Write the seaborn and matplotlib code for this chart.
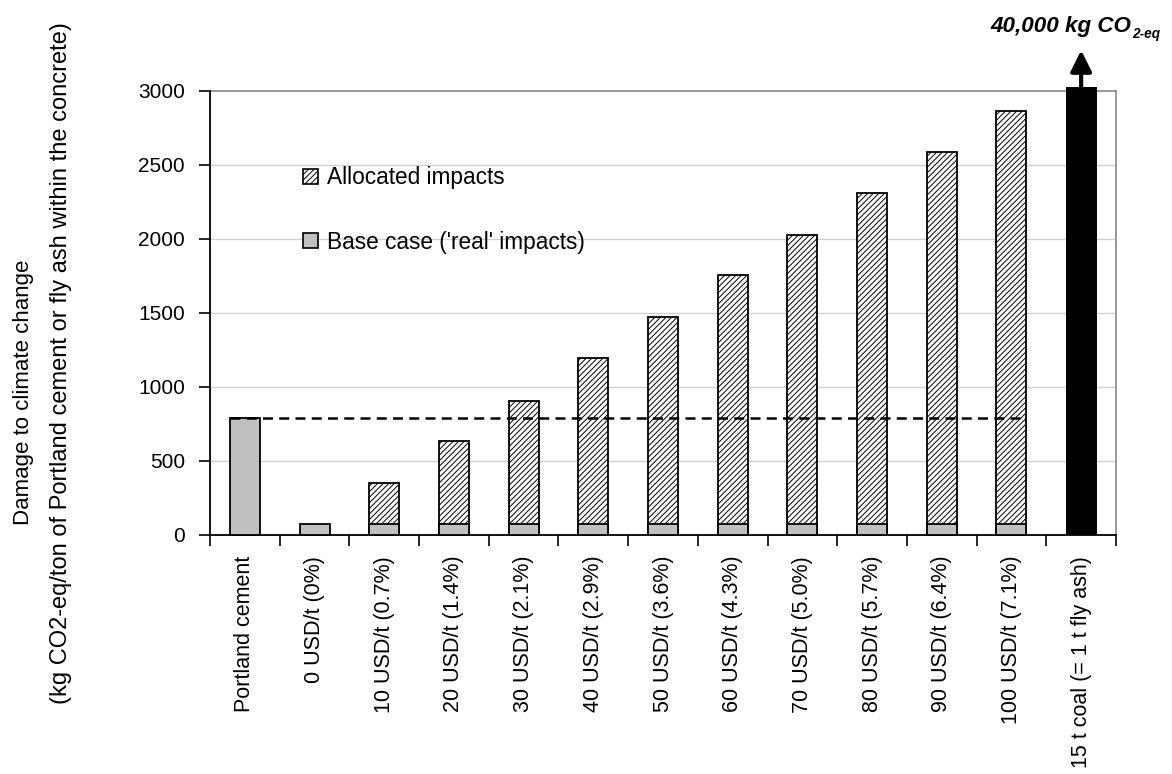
import matplotlib

matplotlib.use('Agg')
import matplotlib.pyplot as plt
from matplotlib import font_manager
from matplotlib.patches import Patch
from matplotlib.ticker import FixedLocator
import seaborn as sns
import pandas as pd

# Данные
labels = ['Portland cement', '0 USD/t (0%)', '10 USD/t (0.7%)', '20 USD/t (1.4%)',
          '30 USD/t (2.1%)', '40 USD/t (2.9%)', '50 USD/t (3.6%)', '60 USD/t (4.3%)',
          '70 USD/t (5.0%)', '80 USD/t (5.7%)', '90 USD/t (6.4%)', '100 USD/t (7.1%)',
          '15 t coal (= 1 t fly ash)']
base_case = [790, 75, 75, 75, 75, 75, 75, 75, 75, 75, 75, 75, 0]
allocated_total = [0, 0, 349, 633, 907, 1194, 1471, 1754, 2029, 2313, 2590, 2863, 0]
coal_shown = [0, 0, 0, 0, 0, 0, 0, 0, 0, 0, 0, 0, 3025]  # real value 40,000 -> off scale
portland_level = 790
y_ticks = [0, 500, 1000, 1500, 2000, 2500, 3000]

sns.set_theme(style="white")
names = {f.name for f in font_manager.fontManager.ttflist}
narrow = 'Liberation Sans Narrow' if 'Liberation Sans Narrow' in names else 'Liberation Sans'
scale = 1.0 if narrow == 'Liberation Sans Narrow' else 0.85
plt.rcParams['font.family'] = ['Liberation Sans', 'DejaVu Sans']
plt.rcParams['hatch.linewidth'] = 0.7
for k in ['text.color', 'axes.labelcolor', 'xtick.color', 'ytick.color']:
    plt.rcParams[k] = 'black'

df = pd.DataFrame({'label': labels, 'base': base_case,
                   'total': allocated_total, 'coal': coal_shown})

fig = plt.figure(figsize=(11.72, 7.74), dpi=100)
ax = fig.add_axes([210 / 1172, 1 - 535 / 774, 906 / 1172, 444 / 774])
W = 0.43

# Гриды
for y in y_ticks[1:-1]:
    ax.axhline(y, color='#d0d0d0', lw=1.0, zorder=0)

# Распределённые воздействия (штриховка)
sns.barplot(ax=ax, data=df[df['total'] > 0], x='label', y='total', order=labels,
            color='white', saturation=1, width=W, edgecolor='black', linewidth=1.3,
            hatch='//////', zorder=2)
# Базовый случай
sns.barplot(ax=ax, data=df[df['base'] > 0], x='label', y='base', order=labels,
            color='#c0c0c0', saturation=1, width=W, edgecolor='black', linewidth=1.3,
            zorder=3)
# Уголь
sns.barplot(ax=ax, data=df[df['coal'] > 0], x='label', y='coal', order=labels,
            color='black', saturation=1, width=0.445, edgecolor='black', linewidth=0,
            zorder=3)
for p in ax.patches:
    p.set_clip_on(False)

# Пунктир уровня портландцемента
ax.hlines(portland_level, -W / 2, 11 + W / 2, colors='black', linestyles=(0, (4, 2.5)),
          lw=1.8, zorder=5)

# Стрелка вне шкалы
ax.annotate('', xy=(12, 3275), xytext=(12, coal_shown[-1]),
            arrowprops=dict(arrowstyle='-|>', lw=3, color='black', mutation_scale=32,
                            shrinkA=0, shrinkB=0),
            annotation_clip=False)
fig.text(1131 / 1172, 1 - 32 / 774, '40,000 kg CO', ha='right', va='baseline',
         fontsize=19 * scale, fontweight='bold', fontstyle='italic', family=[narrow])
fig.text(1132 / 1172, 1 - 38 / 774, '2-eq', ha='left', va='baseline',
         fontsize=11.5 * scale, fontweight='bold', fontstyle='italic', family=[narrow])

# Оси
ax.set_xlim(-0.5, 12.5)
ax.set_ylim(0, 3000)
ax.set_yticks(y_ticks)
ax.set_xlabel('')
ax.set_ylabel('')
ax.xaxis.set_minor_locator(FixedLocator([i - 0.5 for i in range(len(labels) + 1)]))
ax.tick_params(axis='x', which='major', length=0, pad=15)
ax.tick_params(axis='x', which='minor', length=8, width=1.2, color='black', direction='out',
               bottom=True)
ax.tick_params(axis='y', length=8, width=1.2, color='black', direction='out', left=True,
               pad=10, labelsize=15)
ax.set_xticks(range(len(labels)))
ax.set_xticklabels(labels, rotation=90, va='top', ha='center', fontsize=15.5,
                   family=[narrow])
for s in ['left', 'bottom']:
    ax.spines[s].set_color('black')
    ax.spines[s].set_linewidth(1.3)
for s in ['top', 'right']:
    ax.spines[s].set_color('#909090')
    ax.spines[s].set_linewidth(1.3)
ax.spines['top'].set_zorder(1)

# Подпись оси Y
fig.text(24 / 1172, 1 - 392 / 774, 'Damage to climate change', rotation=90,
         ha='center', va='center', fontsize=16)
fig.text(61 / 1172, 1 - 363 / 774,
         '(kg CO2-eq/ton of Portland cement or fly ash within the concrete)', rotation=90,
         ha='center', va='center', fontsize=17)

# Легенда
handles = [Patch(facecolor='white', edgecolor='black', hatch='//////', lw=1.2),
           Patch(facecolor='#c0c0c0', edgecolor='black', lw=1.2)]
leg = ax.legend(handles, ['Allocated impacts', "Base case ('real' impacts)"],
                loc='upper left', bbox_to_anchor=(0.103, 0.83), frameon=False,
                borderpad=0, borderaxespad=0, handlelength=0.65, handleheight=0.65,
                handletextpad=0.4, labelspacing=1.82,
                prop={'family': narrow, 'size': 16.3})

fig.savefig('out.png', dpi=100)
plt.close(fig)
